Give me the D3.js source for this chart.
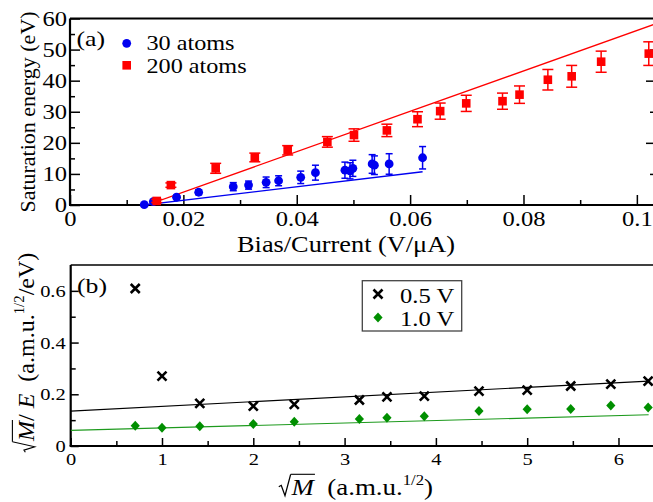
<!DOCTYPE html>
<html>
<head>
<meta charset="utf-8">
<script src="https://cdn.jsdelivr.net/npm/d3@7"></script>
<style>
html, body { margin: 0; padding: 0; background: #fff; }
svg { display: block; }
</style>
</head>
<body>
<div id="chart"></div>
<script>
// ---- panel (a): saturation energy vs bias/current ----
const blueX = [0.0131, 0.0147, 0.0188, 0.0227, 0.0288, 0.0315, 0.0346, 0.0368, 0.0407, 0.0433, 0.0485, 0.0494, 0.0499, 0.0533, 0.0537, 0.0563, 0.0622];
const blueY = [0.1, 1.1, 2.5, 4.1, 5.9, 6.4, 7.3, 7.8, 8.9, 10.4, 11.2, 11.0, 11.8, 13.2, 12.8, 13.2, 15.2];
const blueErr = [0.3, 0.4, 0.6, 0.8, 1.3, 1.3, 1.7, 1.6, 2.0, 2.4, 2.6, 2.6, 2.6, 3.0, 3.0, 3.3, 3.6];

const redX = [0.0153, 0.0178, 0.0257, 0.0326, 0.0384, 0.0454, 0.0501, 0.0559, 0.0613, 0.0653, 0.0699, 0.0763, 0.0793, 0.0843, 0.0885, 0.0937, 0.1021];
const redY = [1.3, 6.4, 11.8, 15.3, 17.6, 20.3, 22.5, 24.0, 27.6, 30.2, 32.7, 33.4, 35.5, 40.3, 41.4, 46.1, 48.7];
const redErr = [0.5, 0.7, 1.6, 1.4, 1.5, 1.7, 2.0, 2.0, 2.4, 2.6, 2.6, 2.6, 2.8, 3.3, 3.5, 3.4, 3.8];

// straight fit lines (end points)
const blueFitX = [0.0131, 0.0622], blueFitY = [0, 10.7];
const redFitX = [0.0136, 0.1032], redFitY = [0, 58.2];

const ticksAx = [0, 0.02, 0.04, 0.06, 0.08, 0.1];
const minorAx = [0.01, 0.03, 0.05, 0.07, 0.09];
const ticksAy = [0, 10, 20, 30, 40, 50, 60];
const minorAy = [5, 15, 25, 35, 45, 55];
const rightMajorAy = [20, 40];
const rightMinorAy = [10, 30, 50];
const legendA = ['30 atoms', '200 atoms'];

// ---- panel (b): sqrt(M)/E vs sqrt(M) ----
const rootM = [0.707, 1.0, 1.414, 2.0, 2.449, 3.162, 3.464, 3.873, 4.472, 5.0, 5.477, 5.916, 6.325];
const half = [0.609, 0.270, 0.165, 0.154, 0.161, 0.178, 0.190, 0.193, 0.212, 0.216, 0.232, 0.239, 0.251];
const full = [0.078, 0.071, 0.076, 0.085, 0.094, 0.104, 0.109, 0.115, 0.135, 0.142, 0.143, 0.157, 0.149];
const halfFitX = [0, 6.33], halfFitY = [0.135, 0.251];
const fullFitX = [0, 6.33], fullFitY = [0.0605, 0.1206];

const ticksBx = [0, 1, 2, 3, 4, 5, 6];
const minorBx = [0.5, 1.5, 2.5, 3.5, 4.5, 5.5];
const ticksBy = [0, 0.2, 0.4, 0.6];
const minorBy = [0.1, 0.3, 0.5];
const legendB = ['0.5 V', '1.0 V'];

const W = 653, H = 502;
const SX = 1.17; // the original's horizontal text is a bit stretched
const FONT = '"Liberation Serif", "Times New Roman", serif';
const BLUE = '#0000f0', RED = '#ff0000', GREEN = '#008f00';

const svg = d3.select('#chart').append('svg')
    .attr('width', W)
    .attr('height', H)
    .attr('font-family', FONT);

svg.append('rect').attr('width', W).attr('height', H).attr('fill', '#fff');

const xA = d3.scaleLinear().domain([0, 0.1032]).range([70, 655]);
const yA = d3.scaleLinear().domain([0, 60]).range([205, 18.5]);
const xB = d3.scaleLinear().domain([0, 6.4]).range([70.7, 655]);
const yB = d3.scaleLinear().domain([0, 0.7]).range([446, 265]);

function stretch(sel) {
    sel.each(function() {
        const t = d3.select(this);
        const x = +t.attr('x') || 0;
        t.attr('x', x / SX).attr('transform', `scale(${SX},1)`);
    });
}

function label(x, y, str, size, anchor) {
    return svg.append('text')
        .attr('transform', `translate(${x},${y}) scale(${SX},1)`)
        .attr('text-anchor', anchor || 'start')
        .attr('font-size', size)
        .text(str);
}

function drawAxes(x, y, o) {
    const y0 = y.range()[0], x0 = x.range()[0];

    // minor ticks
    svg.append('g').attr('transform', `translate(0,${y0})`)
        .call(d3.axisBottom(x).tickValues(o.xMinor).tickSize(-5).tickFormat(''))
        .call(g => g.select('.domain').remove());
    svg.append('g').attr('transform', `translate(${x0},0)`)
        .call(d3.axisLeft(y).tickValues(o.yMinor).tickSize(-5).tickFormat(''))
        .call(g => g.select('.domain').remove());

    // major ticks with labels
    const bx = svg.append('g').attr('transform', `translate(0,${y0})`)
        .call(d3.axisBottom(x).tickValues(o.xMajor).tickSize(-o.major).tickPadding(o.xPad).tickFormat(d => String(d)))
        .call(g => g.select('.domain').remove())
        .attr('font-family', FONT)
        .attr('font-size', o.fs);
    const ly = svg.append('g').attr('transform', `translate(${x0},0)`)
        .call(d3.axisLeft(y).tickValues(o.yMajor).tickSize(-o.major).tickPadding(o.yPad).tickFormat(d => String(d)))
        .call(g => g.select('.domain').remove())
        .attr('font-family', FONT)
        .attr('font-size', o.fs);
    stretch(bx.selectAll('text'));
    stretch(ly.selectAll('text'));
    svg.selectAll('.tick line').attr('stroke-width', 1.5);
}

// ---------- panel (a) ----------
svg.append('clipPath').attr('id', 'clipA').append('rect')
    .attr('x', 70).attr('y', 18.5).attr('width', 585).attr('height', 186.5);

drawAxes(xA, yA, {
    xMajor: ticksAx, xMinor: minorAx, yMajor: ticksAy, yMinor: minorAy,
    major: 10, xPad: 6, yPad: 3, fs: 21
});

// right side ticks
svg.append('g').attr('transform', 'translate(655,0)')
    .call(d3.axisRight(yA).tickValues(rightMajorAy).tickSize(-9).tickFormat(''))
    .call(g => g.select('.domain').remove());
svg.append('g').attr('transform', 'translate(655,0)')
    .call(d3.axisRight(yA).tickValues(rightMinorAy).tickSize(-5).tickFormat(''))
    .call(g => g.select('.domain').remove());

// frame
svg.append('line').attr('x1', 70).attr('x2', 655).attr('y1', 18.5).attr('y2', 18.5)
    .attr('stroke', '#000').attr('stroke-width', 2);
svg.append('line').attr('x1', 70).attr('x2', 70).attr('y1', 18.5).attr('y2', 205)
    .attr('stroke', '#000').attr('stroke-width', 2.2);
svg.append('line').attr('x1', 69).attr('x2', 655).attr('y1', 205).attr('y2', 205)
    .attr('stroke', '#000').attr('stroke-width', 2.2);

const lineA = d3.line().x(d => xA(d[0])).y(d => yA(d[1]));
const plotA = svg.append('g').attr('clip-path', 'url(#clipA)');
plotA.append('path').attr('d', lineA(d3.zip(redFitX, redFitY)))
    .attr('fill', 'none').attr('stroke', RED).attr('stroke-width', 1.3);
plotA.append('path').attr('d', lineA(d3.zip(blueFitX, blueFitY)))
    .attr('fill', 'none').attr('stroke', BLUE).attr('stroke-width', 1.3);

function errorBars(xs, ys, es, color, cap) {
    const g = svg.append('g').attr('stroke', color).attr('stroke-width', 1.5);
    xs.forEach((xv, i) => {
        const px = xA(xv), top = yA(ys[i] + es[i]), bot = yA(ys[i] - es[i]);
        g.append('line').attr('x1', px).attr('x2', px).attr('y1', top).attr('y2', bot);
        g.append('line').attr('x1', px - cap).attr('x2', px + cap).attr('y1', top).attr('y2', top);
        g.append('line').attr('x1', px - cap).attr('x2', px + cap).attr('y1', bot).attr('y2', bot);
    });
}

errorBars(blueX, blueY, blueErr, BLUE, 3.5);
svg.append('g').selectAll('circle')
    .data(d3.zip(blueX, blueY))
    .join('circle')
    .attr('cx', d => xA(d[0]))
    .attr('cy', d => yA(d[1]))
    .attr('r', 4.4)
    .attr('fill', BLUE);

errorBars(redX, redY, redErr, RED, 5.5);
svg.append('g').selectAll('rect')
    .data(d3.zip(redX, redY))
    .join('rect')
    .attr('x', d => xA(d[0]) - 4.3)
    .attr('y', d => yA(d[1]) - 4.3)
    .attr('width', 8.6)
    .attr('height', 8.6)
    .attr('fill', RED);

// legend (a)
label(76.5, 46, '(a)', 22);
svg.append('circle').attr('cx', 126.7).attr('cy', 43.3).attr('r', 4.4).attr('fill', BLUE);
svg.append('rect').attr('x', 122.4).attr('y', 61).attr('width', 8.6).attr('height', 8.6).attr('fill', RED);
svg.append('text').attr('transform', 'translate(146.5,50) scale(1.1,1)')
    .attr('font-size', 22).text(legendA[0]);
svg.append('text').attr('transform', 'translate(146.5,72.5) scale(1.1,1)')
    .attr('font-size', 22).text(legendA[1]);

// axis titles (a)
label(346, 252, 'Bias/Current (V/\u03bcA)', 22.5, 'middle');
svg.append('text')
    .attr('transform', 'translate(35,112) rotate(-90)')
    .attr('text-anchor', 'middle')
    .attr('font-size', 22)
    .text('Saturation energy (eV)');

// ---------- panel (b) ----------
svg.append('clipPath').attr('id', 'clipB').append('rect')
    .attr('x', 70.7).attr('y', 265).attr('width', 584.3).attr('height', 181);

drawAxes(xB, yB, {
    xMajor: ticksBx, xMinor: minorBx, yMajor: ticksBy, yMinor: minorBy,
    major: 8, xPad: 7, yPad: 5, fs: 17.5
});

svg.append('line').attr('x1', 70.7).attr('x2', 655).attr('y1', 265).attr('y2', 265)
    .attr('stroke', '#000').attr('stroke-width', 1.5);
svg.append('line').attr('x1', 70.7).attr('x2', 70.7).attr('y1', 265).attr('y2', 446)
    .attr('stroke', '#000').attr('stroke-width', 2.2);
svg.append('line').attr('x1', 69.6).attr('x2', 655).attr('y1', 446).attr('y2', 446)
    .attr('stroke', '#000').attr('stroke-width', 2.2);

const lineB = d3.line().x(d => xB(d[0])).y(d => yB(d[1]));
const plotB = svg.append('g').attr('clip-path', 'url(#clipB)');
plotB.append('path').attr('d', lineB(d3.zip(halfFitX, halfFitY)))
    .attr('fill', 'none').attr('stroke', '#000').attr('stroke-width', 1.1);
plotB.append('path').attr('d', lineB(d3.zip(fullFitX, fullFitY)))
    .attr('fill', 'none').attr('stroke', '#1d9a1d').attr('stroke-width', 1.1);

const crossPath = 'M-4.5,-4.5L4.5,4.5M-4.5,4.5L4.5,-4.5';
const diamondPath = 'M0,-5L4.6,0L0,5L-4.6,0Z';

svg.append('g').selectAll('path')
    .data(d3.zip(rootM, half))
    .join('path')
    .attr('transform', d => `translate(${xB(d[0])},${yB(d[1])})`)
    .attr('d', crossPath)
    .attr('stroke', '#000')
    .attr('stroke-width', 2.6)
    .attr('fill', 'none');

svg.append('g').selectAll('path')
    .data(d3.zip(rootM, full))
    .join('path')
    .attr('transform', d => `translate(${xB(d[0])},${yB(d[1])})`)
    .attr('d', diamondPath)
    .attr('fill', GREEN);

// legend (b)
label(77, 293, '(b)', 22);
svg.append('rect').attr('x', 362.3).attr('y', 280.7).attr('width', 99.4).attr('height', 50.3)
    .attr('fill', '#fff').attr('stroke', '#444').attr('stroke-width', 1.3);
svg.append('path').attr('transform', 'translate(378,294)').attr('d', crossPath)
    .attr('stroke', '#000').attr('stroke-width', 2.6).attr('fill', 'none');
svg.append('path').attr('transform', 'translate(378,317.5)').attr('d', diamondPath).attr('fill', GREEN);
svg.append('text').attr('transform', 'translate(400,302.5) scale(1.12,1)')
    .attr('font-size', 22).text(legendB[0]);
svg.append('text').attr('transform', 'translate(400,325.5) scale(1.12,1)')
    .attr('font-size', 22).text(legendB[1]);

// sqrt(M) titles: radical drawn by hand, radicand and the rest as text
function rootTitle(g, fs, parts) {
    const r0 = 0.5 * fs;
    g.append('path')
        .attr('d', `M${0.03 * fs},${-0.36 * fs}L${0.12 * fs},${-0.42 * fs}L${0.26 * fs},${0.03 * fs}L${0.47 * fs},${-0.9 * fs}`)
        .attr('fill', 'none').attr('stroke', '#000').attr('stroke-width', 1.1)
        .attr('stroke-linejoin', 'miter');
    const t = g.append('text').attr('x', r0).attr('y', 0).attr('font-size', fs);
    parts.forEach(p => {
        const s = t.append('tspan').text(p.t);
        if (p.it) s.attr('font-style', 'italic');
        if (p.sup) s.attr('font-size', fs * 0.62).attr('dy', -0.42 * fs);
        if (p.down) s.attr('dy', 0.42 * fs);
    });
    const mw = t.node().getSubStringLength(0, 1);
    g.append('line')
        .attr('x1', 0.47 * fs).attr('x2', r0 + mw + 0.04 * fs)
        .attr('y1', -0.9 * fs).attr('y2', -0.9 * fs)
        .attr('stroke', '#000').attr('stroke-width', 1.1);
}

rootTitle(svg.append('g').attr('transform', `translate(278,495) scale(${SX},1)`), 23, [
    { t: 'M', it: true },
    { t: '\u00a0\u00a0(a.m.u.' },
    { t: '1/2', sup: true },
    { t: ')', down: true }
]);

rootTitle(svg.append('g').attr('transform', 'translate(34,453) rotate(-90)'), 24, [
    { t: 'M', it: true },
    { t: '/\u00a0' },
    { t: 'E', it: true },
    { t: '\u00a0\u00a0(a.m.u.' },
    { t: '1/2', sup: true },
    { t: '/eV)', down: true }
]);

// make sure every label uses the serif face
svg.selectAll('text').attr('font-family', FONT);
</script>
</body>
</html>
